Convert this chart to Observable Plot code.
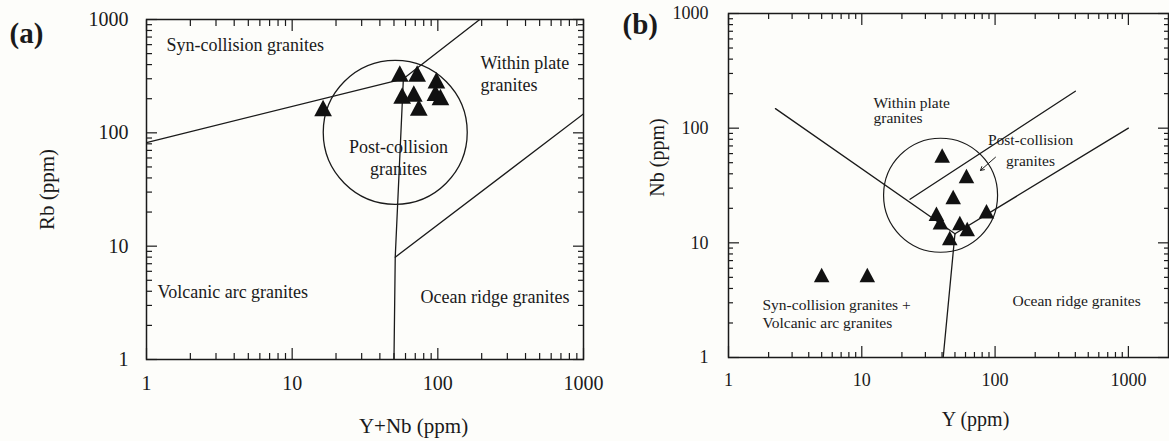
<!DOCTYPE html>
<html><head><meta charset="utf-8">
<script src="https://cdn.jsdelivr.net/npm/d3@7"></script>
<script src="https://cdn.jsdelivr.net/npm/@observablehq/plot@0.6"></script>
<style>
html,body{margin:0;padding:0;background:#fdfdfa;}
#wrap{position:relative;width:1169px;height:441px;background:#fdfdfa;overflow:hidden;}
#wrap svg{position:absolute;top:0;}
</style></head><body><div id="wrap"></div>
<script>
// ---------------- data ----------------
const majorTicks = [1, 10, 100, 1000];
const minorTicks = [2, 3, 4, 5, 6, 7, 8, 9, 20, 30, 40, 50, 60, 70, 80, 90, 200, 300, 400, 500, 600, 700, 800, 900];

// Panel (a): Rb vs Y+Nb
const aYNb = [16.3, 54.8, 72.1, 97.8, 56.9, 68.4, 74, 96.3, 104.2];
const aRb  = [157, 315, 315, 275, 202, 210, 158, 214, 196];
const aSynVag = [[1, 82], [58, 300]];
const aSynWpg = [[58, 300], [194, 1000]];
const aVagOrg = [[58, 300], [51, 8], [50, 1]];
const aWpgOrg = [[51, 8], [1000, 147]];
const aPostCenter = [51, 101];

// Panel (b): Nb vs Y
const bY  = [40.1, 61, 48.5, 86.2, 36.3, 38.9, 54.4, 61.8, 45.7, 5, 11];
const bNb = [55.1, 36.4, 23.9, 18, 17.1, 14.4, 14.2, 12.6, 10.5, 5, 5];
const bVagWpg = [[2.25, 148], [50, 12]];
const bVagOrg = [[40.8, 1], [50, 12]];
const bWpgOrg = [[50, 12], [1000, 100]];
const bPostWpg = [[23, 24], [400, 210]];
const bPostCenter = [39, 26];
const bArrow = [[100.7, 55.8, 77.7, 42.8]];

// text
const aTitle = "(a)", aXLabel = "Y+Nb (ppm)", aYLabel = "Rb (ppm)";
const bTitle = "(b)", bXLabel = "Y (ppm)", bYLabel = "Nb (ppm)";
const aRegions = ["Syn-collision granites", "Within plate", "granites", "Post-collision", "granites", "Volcanic arc granites", "Ocean ridge granites"];
const bRegions = ["Within plate", "granites", "Post-collision", "granites", "Syn-collision granites +", "Volcanic arc granites", "Ocean ridge granites"];

(function () {
  const INK = "#1a1a1a";
  const FONT = "'Liberation Serif', 'Times New Roman', serif";

  const triangleSymbol = {
    draw(ctx, size) {
      const r = Math.sqrt(size / Math.PI);
      const hw = 1.34 * r, h = 2.5 * r;
      ctx.moveTo(0, -2 * h / 3);
      ctx.lineTo(hw, h / 3);
      ctx.lineTo(-hw, h / 3);
      ctx.closePath();
    }
  };

  // inward ticks on all four sides, using Plot's own axis marks (ticks only, no text)
  function edgeTicks(majLen, minLen) {
    const o = {fill: "none", stroke: INK, strokeWidth: 1.2, label: null};
    const side = (vals, len) => [
      Plot.axisX({ticks: vals, anchor: "bottom", tickSize: len, dy: -len, ...o}),
      Plot.axisX({ticks: vals, anchor: "top", tickSize: len, dy: len, ...o}),
      Plot.axisY({ticks: vals, anchor: "left", tickSize: len, dx: len, ...o}),
      Plot.axisY({ticks: vals, anchor: "right", tickSize: len, dx: -len, ...o})
    ];
    return [...side(majorTicks, majLen), ...side(minorTicks, minLen)];
  }

  function placeText(text, px, py, fx, fy, fs, anchor, extra) {
    return Plot.text([text], {
      text: d => d, frameAnchor: "top-left",
      dx: px - fx, dy: py - fy - 0.32 * fs,
      textAnchor: anchor || "start", lineAnchor: "middle",
      fontSize: fs, fill: INK, ...(extra || {})
    });
  }

  function boundary(pts) {
    return Plot.line(pts, {x: d => d[0], y: d => d[1], stroke: INK, strokeWidth: 1.3, clip: true});
  }

  function panelA() {
    const W = 600, H = 441, mL = 146, mR = 17, mT = 19, mB = 82;
    const pts = aYNb.map((x, i) => ({x, y: aRb[i]}));
    const fs = 18;
    const pos = [[166, 50, "start"], [480, 68, "start"], [480, 90, "start"], [398, 152, "middle"], [398, 174, "middle"], [157, 297, "start"], [420, 302, "start"]];
    return Plot.plot({
      width: W, height: H, marginLeft: mL, marginRight: mR, marginTop: mT, marginBottom: mB,
      style: {fontFamily: FONT, background: "transparent", color: INK, overflow: "visible"},
      x: {type: "log", domain: [1, 1000]},
      y: {type: "log", domain: [1, 1000]},
      marks: [
        ...edgeTicks(11, 6),
        Plot.frame({stroke: INK, strokeWidth: 1.5}),
        Plot.axisX({ticks: majorTicks, tickSize: 0, tickPadding: 16, fontSize: 20, tickFormat: d => String(d), label: null}),
        Plot.axisY({ticks: majorTicks, tickSize: 0, tickPadding: 18, fontSize: 20, tickFormat: d => String(d), label: null}),
        boundary(aSynVag), boundary(aSynWpg), boundary(aVagOrg), boundary(aWpgOrg),
        Plot.dot([aPostCenter], {x: d => d[0], y: d => d[1], r: 72, stroke: INK, strokeWidth: 1.3, fill: "none"}),
        Plot.dot(pts, {x: "x", y: "y", r: 6.6, symbol: triangleSymbol, fill: "#111", stroke: "none"}),
        ...aRegions.map((t, i) => placeText(t, pos[i][0], pos[i][1], mL, mT, fs, pos[i][2])),
        placeText(aTitle, 9, 42, mL, mT, 29, "start", {fontWeight: "bold"}),
        placeText(aXLabel, 413, 432, mL, mT, 21, "middle"),
        Plot.text([aYLabel], {text: d => d, frameAnchor: "left", dx: 47 - mL, dy: 0, rotate: -90, textAnchor: "middle", lineAnchor: "middle", fontSize: 21, fill: INK})
      ]
    });
  }

  function panelB() {
    const X0 = 600;
    const W = 569, H = 441, mL = 128, mR = 1, mT = 13, mB = 84;
    const pts = bY.map((x, i) => ({x, y: bNb[i]}));
    const fs = 15.5;
    const pos = [[873, 107, "start"], [873, 122, "start"], [1030, 144, "middle"], [1030, 165, "middle"], [762, 309, "start"], [762, 327, "start"], [1012, 305, "start"]];
    return Plot.plot({
      width: W, height: H, marginLeft: mL, marginRight: mR, marginTop: mT, marginBottom: mB,
      style: {fontFamily: FONT, background: "transparent", color: INK, overflow: "visible"},
      x: {type: "log", domain: [1, 2000]},
      y: {type: "log", domain: [1, 1000]},
      marks: [
        ...edgeTicks(11, 5),
        Plot.frame({stroke: INK, strokeWidth: 1.5}),
        Plot.axisX({ticks: majorTicks, tickSize: 0, tickPadding: 16, fontSize: 18, tickFormat: d => String(d), label: null}),
        Plot.axisY({ticks: majorTicks, tickSize: 0, tickPadding: 20, fontSize: 18, tickFormat: d => String(d), label: null}),
        boundary(bVagWpg), boundary(bVagOrg), boundary(bWpgOrg), boundary(bPostWpg),
        Plot.dot([bPostCenter], {x: d => d[0], y: d => d[1], r: 57, stroke: INK, strokeWidth: 1.2, fill: "none"}),
        Plot.arrow(bArrow, {x1: d => d[0], y1: d => d[1], x2: d => d[2], y2: d => d[3], stroke: INK, strokeWidth: 1, headLength: 6}),
        Plot.dot(pts, {x: "x", y: "y", r: 5.8, symbol: triangleSymbol, fill: "#111", stroke: "none"}),
        ...bRegions.map((t, i) => placeText(t, pos[i][0] - X0, pos[i][1], mL, mT, fs, pos[i][2])),
        placeText(bTitle, 622 - X0, 33, mL, mT, 29, "start", {fontWeight: "bold"}),
        placeText(bXLabel, 975 - X0, 425, mL, mT, 20, "middle"),
        Plot.text([bYLabel], {text: d => d, frameAnchor: "left", dx: 657 - X0 - mL, dy: -28, rotate: -90, textAnchor: "middle", lineAnchor: "middle", fontSize: 20, fill: INK})
      ]
    });
  }

  const host = document.getElementById("wrap");
  const ca = panelA();
  ca.style.left = "0px";
  host.appendChild(ca);
  const cb = panelB();
  cb.style.left = "600px";
  host.appendChild(cb);
})();
</script></body></html>
